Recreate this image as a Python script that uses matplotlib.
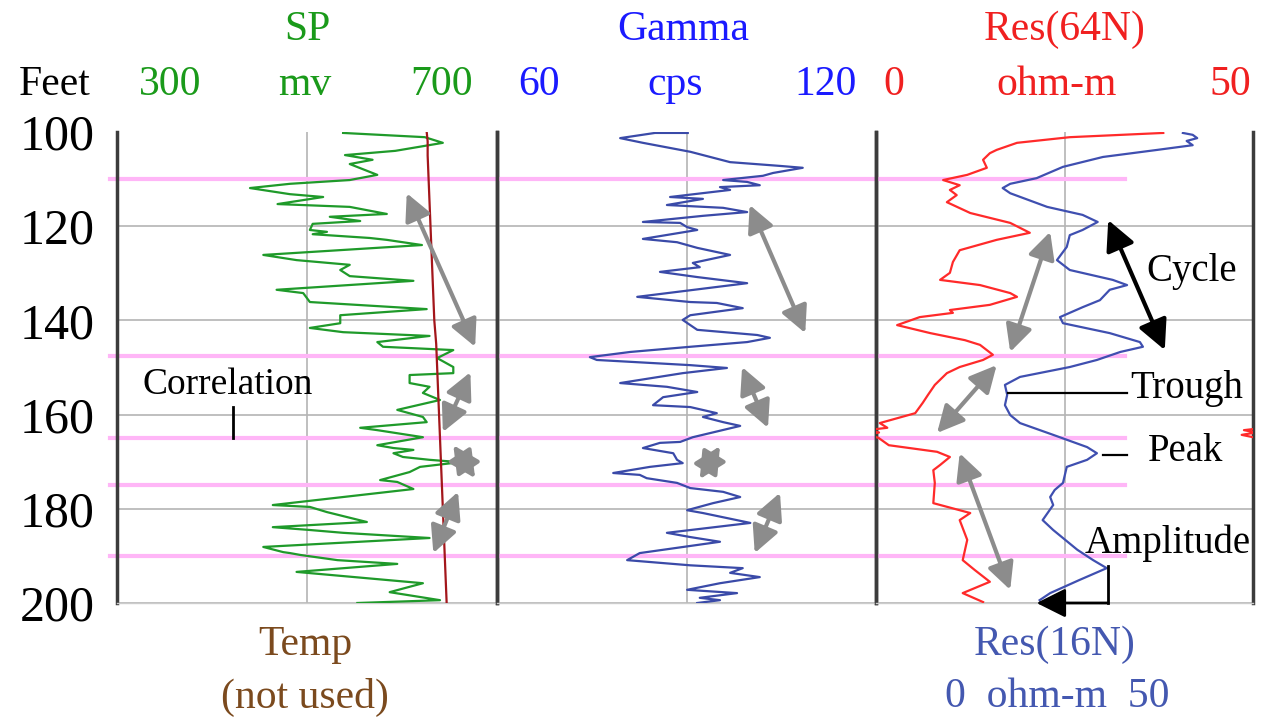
import numpy as np
import matplotlib
matplotlib.use("Agg")
import matplotlib.pyplot as plt

plt.rcParams['font.family'] = ['Liberation Serif', 'DejaVu Serif']

# ---------------- data ----------------
sp_depth = [100.2, 101.1, 102.3, 104.0, 104.9, 105.9, 106.8, 109.1, 110.2, 111.0, 111.9, 113.2,
            113.8, 115.3, 115.9, 117.4, 118.0, 118.9, 119.5, 120.8, 121.2, 121.7, 122.5, 122.9,
            124.0, 126.1, 127.2, 128.2, 129.3, 130.6, 131.6, 133.5, 134.2, 136.1, 137.6, 138.9,
            140.6, 141.6, 142.5, 143.3, 144.6, 145.6, 146.3, 148.0, 149.9, 151.2, 151.6, 153.3,
            154.1, 155.4, 156.9, 159.0, 160.5, 161.6, 162.8, 163.3, 164.8, 166.5, 167.1, 167.5,
            168.2, 169.0, 169.6, 170.1, 171.1, 172.2, 173.9, 174.3, 175.8, 179.2, 179.6, 180.7,
            182.8, 183.9, 184.5, 185.1, 186.2, 188.1, 189.2, 189.4, 189.8, 190.9, 191.7, 193.4,
            195.8, 197.7, 199.4, 200.0]
sp_mv = [538, 624, 643, 593, 540, 569, 545, 574, 545, 482, 440, 482,
         517, 469, 545, 584, 524, 556, 506, 503, 521, 506, 566, 584,
         621, 454, 489, 545, 535, 545, 612, 468, 496, 503, 626, 535,
         535, 503, 538, 629, 574, 580, 654, 637, 654, 654, 608, 608,
         629, 622, 640, 595, 622, 626, 556, 574, 622, 574, 591, 612,
         591, 601, 629, 661, 619, 608, 577, 595, 612, 464, 503, 521,
         563, 464, 503, 538, 629, 454, 475, 482, 493, 532, 595, 489,
         622, 587, 640, 553]

temp_depth = [100, 102, 105, 110, 115, 120, 125, 130, 135, 140, 145, 150,
              155, 160, 165, 170, 175, 180, 185, 190, 195, 200]
temp_val = [626, 627, 627, 628, 629, 630, 631, 632, 633, 634, 636, 637,
            638, 639, 640, 641, 642, 643, 644, 645, 646, 647]

gr_depth = [100.2, 100.2, 101.3, 102.3, 104.2, 106.4, 107.2, 107.6, 108.7, 109.3, 110.2, 110.6,
            111.3, 111.7, 112.3, 113.8, 114.2, 115.5, 116.1, 117.0, 117.8, 119.1, 119.3, 120.2,
            120.8, 122.7, 123.4, 124.6, 126.1, 127.8, 128.7, 129.7, 130.8, 132.1, 135.0, 136.1,
            136.3, 137.4, 138.9, 139.9, 141.0, 142.0, 143.1, 143.7, 144.6, 145.6, 146.7, 147.8,
            148.4, 149.5, 150.1, 151.2, 153.3, 154.1, 155.2, 156.3, 158.0, 158.4, 159.7, 160.5,
            161.6, 162.4, 164.8, 165.8, 166.0, 167.1, 168.2, 169.6, 170.3, 171.1, 172.4, 172.8,
            173.5, 174.5, 175.6, 176.4, 177.5, 178.8, 180.3, 180.9, 183.0, 185.1, 186.0, 187.0,
            189.4, 190.9, 192.0, 192.6, 193.6, 194.5, 195.8, 197.2, 197.9, 198.9, 199.4, 200.0]
gr_cps = [90.2, 85.0, 79.5, 83.1, 90.6, 96.9, 104.8, 108.4, 103.7, 102.1, 95.8, 99.6,
          101.6, 95.3, 96.9, 87.4, 92.6, 86.9, 95.8, 99.6, 92.6, 83.1, 89.0, 90.1,
          91.7, 83.1, 88.5, 91.7, 96.9, 91.0, 92.1, 85.8, 91.7, 99.6, 82.2, 90.6,
          94.8, 98.9, 90.6, 89.4, 90.6, 91.7, 101.2, 103.2, 99.6, 90.6, 81.1, 74.7,
          75.8, 90.6, 96.4, 89.4, 79.5, 86.9, 91.7, 86.3, 84.7, 90.6, 94.8, 92.6,
          95.8, 98.5, 91.0, 89.0, 85.8, 83.1, 87.9, 88.5, 89.4, 84.2, 78.4, 82.6,
          83.7, 88.5, 90.6, 95.8, 98.5, 94.2, 90.1, 92.6, 100.1, 86.9, 90.6, 95.3,
          82.6, 80.6, 90.6, 98.9, 96.9, 101.6, 95.3, 90.1, 98.0, 92.1, 95.3, 91.7]

res64_depth = [100.2, 101.1, 102.3, 103.8, 104.5, 105.9, 107.6, 109.1, 110.2, 111.3, 112.3, 113.4,
               114.9, 117.2, 119.3, 121.4, 122.9, 125.1, 127.6, 129.9, 131.4, 132.5, 134.2, 135.0,
               136.7, 137.8, 138.4, 139.3, 141.0, 142.7, 144.2, 145.2, 147.3, 148.4, 149.9, 151.2,
               153.7, 155.8, 157.5, 159.7, 161.8, 162.8, 163.3, 163.8, 164.3, 164.9, 166.5, 167.9,
               169.0, 170.7, 171.8, 174.5, 178.8, 180.9, 182.4, 186.6, 190.9, 193.0, 195.5, 197.9,
               199.8]
res64_ohm = [38.1, 25.7, 18.7, 16.0, 15.1, 14.2, 14.7, 12.1, 8.9, 11.1, 9.8, 10.7,
             9.4, 12.5, 17.8, 20.4, 16.0, 11.1, 10.2, 9.8, 8.5, 13.8, 17.8, 18.7,
             15.1, 9.8, 10.2, 5.8, 2.8, 7.2, 11.8, 13.8, 15.5, 14.2, 11.1, 9.4,
             7.8, 6.9, 6.2, 5.2, 0.5, 1.5, -1.2, 0.4, -1.5, 0.3, 1.7, 8.1,
             9.8, 8.5, 7.6, 7.8, 7.6, 12.5, 11.1, 12.1, 11.5, 13.1, 15.1, 11.5,
             14.2]

res16_depth = [100.2, 100.6, 101.3, 101.9, 102.8, 103.8, 105.3, 107.4, 109.8, 111.0, 111.9, 113.0,
               115.9, 117.6, 119.1, 120.8, 121.9, 124.4, 127.2, 129.3, 131.4, 132.5, 133.5, 135.7,
               137.2, 139.3, 140.6, 142.7, 144.6, 145.6, 146.7, 148.4, 149.9, 152.0, 153.7, 155.8,
               158.0, 160.1, 161.8, 164.3, 166.9, 168.2, 169.6, 171.1, 174.5, 176.0, 177.5, 179.2,
               182.4, 184.5, 188.7, 190.9, 192.6, 195.1, 197.9, 199.4]
res16_ohm = [40.7, 42.0, 42.6, 41.2, 42.0, 37.3, 30.1, 24.8, 21.3, 17.8, 16.8, 17.8,
             22.7, 27.4, 29.4, 27.4, 25.7, 25.3, 24.0, 25.7, 31.4, 33.3, 31.0, 29.7,
             27.4, 24.4, 24.8, 31.0, 35.0, 35.4, 32.4, 29.3, 25.7, 19.1, 17.1, 17.4,
             17.1, 17.8, 19.1, 23.5, 28.0, 29.3, 28.0, 25.3, 24.8, 23.7, 23.1, 23.5,
             22.1, 23.5, 26.7, 28.8, 30.6, 27.0, 23.1, 21.7]

marker_depths = [110, 147.5, 165, 175, 190]
depth_ticks = [100, 120, 140, 160, 180, 200]
grid_depths = [120, 140, 160, 180, 200]

# ---------------- figure ----------------
W, H = 1262, 719
fig = plt.figure(figsize=(W / 100, H / 100), dpi=100)


def fx(px):
    return px / W


def fy(py):
    return 1 - py / H


top, bot = 132, 603
ax1 = fig.add_axes([fx(117), fy(bot), fx(497 - 117), (bot - top) / H])
ax2 = fig.add_axes([fx(497), fy(bot), fx(876 - 497), (bot - top) / H])
ax3 = fig.add_axes([fx(876), fy(bot), fx(1253 - 876), (bot - top) / H])

ranges = [(300, 700), (60, 120), (0, 50)]
grid_c = '#b4b4b4'
for ax, (lo, hi) in zip([ax1, ax2, ax3], ranges):
    ax.set_xlim(lo, hi)
    ax.set_ylim(200, 100)
    ax.set_xticks([])
    ax.set_yticks([])
    ax.spines['top'].set_visible(False)
    ax.spines['bottom'].set_color('#cccccc')
    ax.spines['bottom'].set_linewidth(1)
    for s in ['left', 'right']:
        ax.spines[s].set_color('#3c3c3c')
        ax.spines[s].set_linewidth(2.5)
    for d in grid_depths:
        ax.axhline(d, color=grid_c, lw=1.2, zorder=0)
    ax.axvline((lo + hi) / 2, color=grid_c, lw=1.2, zorder=0)
    ax.patch.set_alpha(0)

ax1.set_yticks(depth_ticks)
ax1.set_yticklabels([str(t) for t in depth_ticks])
ax1.tick_params(axis='y', length=0, pad=16, labelsize=36)

pink = '#ffb6f7'
for d in marker_depths:
    ax1.plot([293, 700], [d, d], color=pink, lw=3, zorder=1, clip_on=False)
    ax2.plot([60, 120], [d, d], color=pink, lw=3, zorder=1)
    ax3.plot([0, 33], [d, d], color=pink, lw=3, zorder=1)

# curves
ax1.plot(sp_mv, sp_depth, color='#1f9a2a', lw=1.6, zorder=3)
ax1.plot(temp_val, temp_depth, color='#a3161b', lw=1.6, zorder=3)
ax2.plot(gr_cps, gr_depth, color='#3a4aa8', lw=1.6, zorder=3)
ax3.plot(res64_ohm, res64_depth, color='#ff2a2a', lw=1.6, zorder=3)
ax3.plot(np.array(res64_ohm) + 50, res64_depth, color='#ff2a2a', lw=1.6, zorder=3)
ax3.plot(res16_ohm, res16_depth, color='#3f4fb0', lw=1.6, zorder=3)

# gray correlation arrows
gray = '#8c8c8c'


def darrow(ax, p1, p2, color=gray, lw=3, ms=18):
    ax.annotate('', xy=p2, xytext=p1,
                arrowprops=dict(arrowstyle='<|-|>,head_length=0.9,head_width=0.45',
                                color=color, lw=lw, mutation_scale=ms,
                                shrinkA=0, shrinkB=0), zorder=5)


darrow(ax1, (605, 113.0), (677, 145.6))
darrow(ax1, (672, 151.0), (643, 163.7))
darrow(ax1, (654, 166.5), (677, 173.5))
darrow(ax1, (659, 176.4), (633, 189.4))

darrow(ax2, (100.0, 115.5), (108.8, 142.7))
darrow(ax2, (98.8, 149.9), (102.9, 162.8))
darrow(ax2, (95.3, 166.7), (92.1, 173.7))
darrow(ax2, (104.8, 176.6), (100.8, 189.4))

darrow(ax3, (23.1, 121.2), (17.8, 146.7))
darrow(ax3, (16.0, 149.5), (8.1, 163.9))
darrow(ax3, (11.1, 168.2), (17.8, 197.2))
darrow(ax3, (30.8, 118.7), (38.3, 146.3), color='black', lw=3, ms=20)

# annotations
lab_fs = 28
ax1.text(327, 153.7, 'Correlation', fontsize=27, ha='left', va='center', zorder=6)
ax1.plot([422, 422], [158.4, 165.0], color='black', lw=2, zorder=6)

ax3.text(35.9, 129.7, 'Cycle', fontsize=lab_fs, ha='left', va='center', zorder=6)
ax3.plot([17.5, 33.3], [155.4, 155.4], color='black', lw=1.6, zorder=6)
ax3.text(33.7, 154.4, 'Trough', fontsize=lab_fs, ha='left', va='center', zorder=6,
         clip_on=False)
ax3.plot([30.1, 33.3], [168.6, 168.6], color='black', lw=1.6, zorder=6)
ax3.text(36.0, 167.9, 'Peak', fontsize=lab_fs, ha='left', va='center', zorder=6)
ax3.text(27.7, 187.3, 'Amplitude', fontsize=lab_fs, ha='left', va='center', zorder=6,
         clip_on=False)
ax3.plot([30.8, 30.8], [192.1, 200.0], color='black', lw=2, zorder=6, clip_on=False)
ax3.annotate('', xy=(21.3, 200.0), xytext=(30.8, 200.0),
             arrowprops=dict(arrowstyle='-|>,head_length=0.9,head_width=0.45', color='black',
                             lw=2, mutation_scale=20, shrinkA=0, shrinkB=0),
             zorder=6, annotation_clip=False)

# headers
hfs = 30
green_t = '#1a9a1a'
blue_t = '#1a1aff'
red_t = '#f02020'
fig.text(fx(307), fy(30), 'SP', color=green_t, fontsize=hfs, ha='center', va='center')
fig.text(fx(683), fy(30), 'Gamma', color=blue_t, fontsize=hfs, ha='center', va='center')
fig.text(fx(1065), fy(30), 'Res(64N)', color=red_t, fontsize=hfs, ha='center', va='center')

row_y = 85
fig.text(fx(55), fy(row_y), 'Feet', color='black', fontsize=hfs, ha='center', va='center')
for txt, x in [('300', 170), ('mv', 305), ('700', 442)]:
    fig.text(fx(x), fy(row_y), txt, color=green_t, fontsize=hfs, ha='center', va='center')
for txt, x in [('60', 539), ('cps', 675), ('120', 826)]:
    fig.text(fx(x), fy(row_y), txt, color=blue_t, fontsize=hfs, ha='center', va='center')
for txt, x in [('0', 894), ('ohm-m', 1057), ('50', 1230)]:
    fig.text(fx(x), fy(row_y), txt, color=red_t, fontsize=hfs, ha='center', va='center')

brown = '#7b4a1e'
res16_c = '#4458b0'
fig.text(fx(305), fy(645), 'Temp', color=brown, fontsize=hfs, ha='center', va='center')
fig.text(fx(305), fy(697), '(not used)', color=brown, fontsize=hfs, ha='center', va='center')
fig.text(fx(1055), fy(645), 'Res(16N)', color=res16_c, fontsize=hfs, ha='center', va='center')
fig.text(fx(1057), fy(697), '0  ohm-m  50', color=res16_c, fontsize=hfs, ha='center',
         va='center')

fig.savefig('out.png', dpi=100)
